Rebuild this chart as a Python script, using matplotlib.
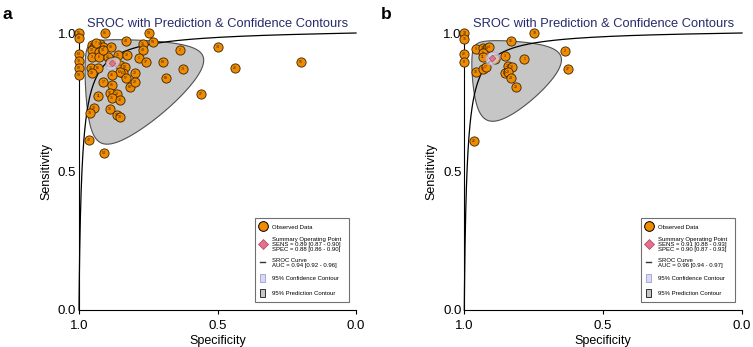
#SROC plots, two panels (a and b)

import numpy as np
import matplotlib.pyplot as plt
from matplotlib.lines import Line2D
from matplotlib.patches import Patch

plt.rcParams['font.family'] = ['Liberation Sans', 'DejaVu Sans']

# ---- panel a data (specificity, sensitivity, study id) ----
spec_a = [1.0, 1.0, 1.0, 1.0, 1.0, 1.0,
          0.907, 0.749, 0.830, 0.732, 0.768, 0.768, 0.636, 0.499,
          0.954, 0.945, 0.924, 0.912, 0.885, 0.954, 0.927, 0.954, 0.927, 0.894,
          0.858, 0.828, 0.785, 0.758, 0.698, 0.624, 0.437, 0.200,
          0.958, 0.933, 0.954, 0.888, 0.852, 0.834, 0.840, 0.852, 0.882, 0.798,
          0.832, 0.816, 0.798, 0.686, 0.560, 0.912, 0.882, 0.888, 0.864, 0.880,
          0.852, 0.930, 0.945, 0.960, 0.888, 0.864, 0.852, 0.963, 0.910,
          0.870, 0.915, 0.940]
sens_a = [1.0, 0.982, 0.924, 0.898, 0.873, 0.847,
          1.0, 1.0, 0.970, 0.968, 0.960, 0.940, 0.937, 0.948,
          0.957, 0.951, 0.959, 0.951, 0.951, 0.939, 0.933, 0.915, 0.915, 0.915,
          0.921, 0.921, 0.910, 0.895, 0.895, 0.870, 0.875, 0.895,
          0.872, 0.872, 0.857, 0.897, 0.884, 0.876, 0.857, 0.860, 0.848, 0.854,
          0.839, 0.806, 0.822, 0.838, 0.781, 0.824, 0.812, 0.785, 0.780, 0.764,
          0.758, 0.773, 0.728, 0.710, 0.725, 0.704, 0.698, 0.614, 0.568,
          0.900, 0.940, 0.963]
ids_a = [51, 48, 63, 70, 89, 93,
         81, 59, 44, 53, 25, 43, 2, 34,
         14, 9, 30, 8, 90, 12, 5, 3, 6, 45,
         35, 32, 1, 37, 68, 73, 26, 56,
         76, 66, 29, 87, 55, 58, 61, 62, 46, 72,
         57, 60, 22, 69, 27, 17, 85, 96, 20, 31,
         40, 11, 78, 39, 15, 19, 18, 42, 54,
         84, 10, 7]

# ---- panel b data ----
spec_b = [1.0, 1.0, 1.0, 1.0,
          0.748, 0.832, 0.958, 0.932, 0.919, 0.910, 0.934, 0.934,
          0.889, 0.853, 0.784, 0.637, 0.626, 0.958, 0.934, 0.923,
          0.842, 0.829, 0.853, 0.842, 0.833, 0.814, 0.964]
sens_b = [1.0, 0.978, 0.924, 0.896,
          0.999, 0.971, 0.942, 0.947, 0.947, 0.951, 0.929, 0.915,
          0.906, 0.918, 0.905, 0.936, 0.869, 0.860, 0.869, 0.876,
          0.881, 0.876, 0.857, 0.858, 0.836, 0.806, 0.610]
ids_b = [18, 15, 22, 8,
         19, 16, 9, 13, 14, 4, 5, 11,
         6, 3, 1, 2, 27, 10, 12, 17,
         20, 30, 28, 23, 24, 29, 26]

# ---- summary / model estimates ----
# summary point (spec, sens), SROC line logit(sens) = a + b*logit(fpr)
summ_a = (0.88, 0.89)
summ_b = (0.90, 0.91)
sroc_a = (4.12, 0.908)
sroc_b = (4.30, 0.93)
# ellipses in logit space: centre (logit fpr, logit sens), radii, correlation
pred_a = (-2.00, 2.05, 1.80, 1.65, 0.10)
pred_b = (-2.10, 2.16, 1.48, 1.40, 0.05)
conf_a = (-1.99, 2.09, 0.24, 0.22, 0.3)
conf_b = (-2.20, 2.31, 0.28, 0.28, 0.2)

legend_a = ['Observed Data',
            'Summary Operating Point\nSENS = 0.89 [0.87 - 0.90]\nSPEC = 0.88 [0.86 - 0.90]',
            'SROC Curve\nAUC = 0.94 [0.92 - 0.96]',
            '95% Confidence Contour',
            '95% Prediction Contour']
legend_b = ['Observed Data',
            'Summary Operating Point\nSENS = 0.91 [0.88 - 0.93]\nSPEC = 0.90 [0.87 - 0.93]',
            'SROC Curve\nAUC = 0.96 [0.94 - 0.97]',
            '95% Confidence Contour',
            '95% Prediction Contour']

ORANGE = '#f08a00'
PRED_FILL = '#c6c6c6'
CONF_FILL = '#d9d9f4'
DIAMOND = '#e2728c'
TITLE_C = '#262b6b'


def logit(p):
    return np.log(p / (1 - p))


def expit(x):
    return 1 / (1 + np.exp(-x))


def ellipse(params):
    # ellipse in logit space, back to spec/sens
    t = np.linspace(0, 2 * np.pi, 400)
    cu, cv, ru, rv, rho = params
    u = cu + ru * np.cos(t)
    v = cv + rv * (rho * np.cos(t) + np.sqrt(1 - rho ** 2) * np.sin(t))
    return 1 - expit(u), expit(v)


def draw_panel(ax, spec, sens, ids, summ, sroc, pred, conf, labels, letter, lx):
    ax.set_xlim(1, 0)
    ax.set_ylim(0, 1)

    x, y = ellipse(pred)
    ax.fill(x, y, fc=PRED_FILL, ec='#505050', lw=0.8, zorder=1)

    fpr = np.logspace(-7, np.log10(0.999999), 600)
    a, b = sroc
    ax.plot(1 - fpr, expit(a + b * logit(fpr)), color='black', lw=0.9,
            zorder=2, clip_on=False)

    ax.scatter(spec, sens, s=44, c=ORANGE, edgecolors='#3a2500', linewidths=0.6,
               zorder=4, clip_on=False)
    for sx, sy, i in zip(spec, sens, ids):
        ax.text(sx, sy, str(i), fontsize=2.6, ha='center', va='center',
                color='#3a2500', zorder=5)

    x, y = ellipse(conf)
    ax.fill(x, y, fc=CONF_FILL, ec='#9d9dd6', lw=0.6, alpha=0.7, zorder=6)
    ax.scatter([summ[0]], [summ[1]], marker='D', s=12, c=DIAMOND,
               edgecolors='#b04060', linewidths=0.4, zorder=7)

    for s in ['top', 'right']:
        ax.spines[s].set_visible(False)
    for s in ['left', 'bottom']:
        ax.spines[s].set_linewidth(0.8)
    ax.set_xticks([1.0, 0.5, 0.0])
    ax.set_xticklabels(['1.0', '0.5', '0.0'])
    ax.set_yticks([0.0, 0.5, 1.0])
    ax.set_yticklabels(['0.0', '0.5', '1.0'])
    ax.tick_params(axis='x', length=3, width=0.8, labelsize=9.5, pad=4)
    ax.tick_params(axis='y', length=0, labelsize=9.5, pad=2)
    ax.set_xlabel('Specificity', fontsize=9, labelpad=2.5)
    ax.set_ylabel('Sensitivity', fontsize=9, labelpad=4)

    ax.text(0.5, 1.012, 'SROC with Prediction & Confidence Contours',
            transform=ax.transAxes, ha='center', va='bottom', fontsize=9.3,
            color=TITLE_C)

    handles = [
        Line2D([], [], ls='none', marker='o', ms=7, mfc=ORANGE, mec='black', mew=0.7),
        Line2D([], [], ls='none', marker='D', ms=5, mfc=DIAMOND, mec='#b04060', mew=0.5),
        Line2D([], [], color='#333333', lw=1.0),
        Patch(fc=CONF_FILL, ec='#9d9dd6', lw=0.6),
        Patch(fc=PRED_FILL, ec='#303030', lw=0.7),
    ]
    leg = ax.legend(handles, labels, loc='lower left',
                    bbox_to_anchor=(0.625, 0.018, 0.36, 0.314), mode='expand',
                    fontsize=4.3, labelspacing=1.05, handlelength=0.8,
                    handleheight=1.7, handletextpad=1.1, borderpad=0.9,
                    fancybox=False, framealpha=1, edgecolor='#707070')
    leg.get_frame().set_linewidth(0.8)
    for t in leg.get_texts():
        t.set_linespacing(0.95)

    fig.text(lx, 0.98, letter, fontsize=12.5, fontweight='bold',
             ha='left', va='top')


fig = plt.figure(figsize=(7.53, 3.47), dpi=100)
ax_a = fig.add_axes([79 / 753, 37 / 347, 277 / 753, 277 / 347])
ax_b = fig.add_axes([464.3 / 753, 37 / 347, 277.7 / 753, 277 / 347])

draw_panel(ax_a, spec_a, sens_a, ids_a, summ_a, sroc_a, pred_a, conf_a, legend_a, 'a', 0.003)
draw_panel(ax_b, spec_b, sens_b, ids_b, summ_b, sroc_b, pred_b, conf_b, legend_b, 'b', 0.506)

fig.savefig('out.png', dpi=100)
